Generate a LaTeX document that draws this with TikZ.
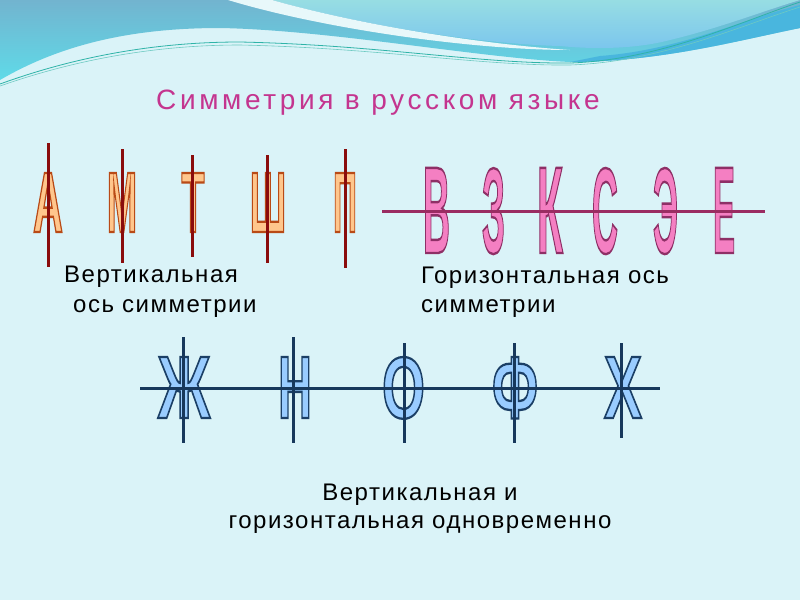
\documentclass[tikz,border=0pt]{standalone}
\usepackage{fontspec}
\setmainfont{Liberation Sans}
\usepackage{graphicx}
\definecolor{bg}{HTML}{DAF3F8}
\definecolor{bandtop}{HTML}{72B4CF}
\definecolor{bandbot}{HTML}{5FDAE8}
\definecolor{bowltop}{HTML}{97DDE3}
\definecolor{bowlbot}{HTML}{7AC5EE}
\definecolor{darkband}{HTML}{49B6DE}
\definecolor{whitestrip}{HTML}{E8F8FA}
\definecolor{tealline}{HTML}{2FB3A8}
\definecolor{titlecol}{HTML}{C4358F}
\definecolor{oFill}{HTML}{FFC68C}
\definecolor{oLine}{HTML}{8A0C0C}
\definecolor{pFill}{HTML}{F47FC2}
\definecolor{pLine}{HTML}{9A2C62}
\definecolor{bFill}{HTML}{99CCFF}
\definecolor{bLine}{HTML}{17385C}
% stroke colours (PDF rgb) and stroke widths
\def\oStroke{0.725 0.290 0.086 RG 0.28 w}
\def\pStroke{0.557 0.184 0.400 RG 0.2 w}
\def\bStroke{0.106 0.247 0.400 RG 0.26 w}
\newcommand{\wletter}[8]{% name, x, y, w, h, letter, fill, stroke
  \node[letO, text=#7] (#1) at (#2,#3) {\resizebox{#4pt}{#5pt}{\bfseries
    \special{pdf:code #8 2 Tr}#6\special{pdf:code 0 Tr}}};}
\tikzset{
  lbl/.style={inner sep=0, font=\fontsize{24}{24}\selectfont\addfontfeatures{LetterSpace=6.3}, text=black},
  ttl/.style={inner sep=0, font=\fontsize{28}{28}\selectfont\addfontfeatures{LetterSpace=13}, text=titlecol},
  letO/.style={inner sep=0, anchor=base},
  axisO/.style={draw=oLine, line width=3pt},
  axisP/.style={draw=pLine, line width=3pt},
  axisB/.style={draw=bLine, line width=3pt}
}
\begin{document}
\begin{tikzpicture}[x=1pt,y=-1pt]
\useasboundingbox (0,0) rectangle (800,600);
\fill[bg] (0,0) rectangle (800,600);
% top decoration
\shade[top color=bandtop, bottom color=bandbot]
  (0,80) .. controls (60,45) and (130,28) .. (220,28) .. controls (330,30) and (480,58) .. (570,62)
  .. controls (660,62) and (740,40) .. (800,28) -- (800,0) -- (0,0) -- cycle;
\fill[darkband] (600,56) .. controls (680,50) and (740,20) .. (800,5) -- (800,28) .. controls (740,40) and (660,62) .. (570,62) -- cycle;
\shade[top color=bowltop, bottom color=bowlbot]
  (272,0) .. controls (360,25) and (480,44) .. (560,46) .. controls (600,50) and (640,48) .. (670,40)
  .. controls (720,28) and (760,12) .. (800,0) -- cycle;
\fill[whitestrip] (228,0) .. controls (320,28) and (470,50) .. (570,50) .. controls (480,44) and (360,25) .. (272,0) -- cycle;
\draw[tealline, line width=0.8pt] (0,84) .. controls (80,55) and (160,42) .. (240,42) .. controls (380,45) and (480,64) .. (570,63) .. controls (660,60) and (740,22) .. (800,2);
\draw[tealline!70!white, line width=0.6pt] (0,86) .. controls (80,58) and (160,45) .. (240,45) .. controls (380,48) and (480,66) .. (570,65) .. controls (660,62) and (740,26) .. (800,7);
% title
\node[ttl, anchor=base west] (title) at (156,109) {Симметрия в русском языке};
% row 1: vertical axis
\wletter{a1}{48}{232}{30}{59}{А}{oFill}{\oStroke}
\wletter{a2}{122}{232}{30}{59}{М}{oFill}{\oStroke}
\wletter{a3}{193}{232}{23}{59}{Т}{oFill}{\oStroke}
\wletter{a4}{268}{232}{36}{59}{Ш}{oFill}{\oStroke}
\wletter{a5}{345}{232}{24}{59}{П}{oFill}{\oStroke}
\coordinate (a1t) at (48,143); \coordinate (a1b) at (48,267);
\coordinate (a2t) at (122,149); \coordinate (a2b) at (122,263);
\coordinate (a3t) at (192,155); \coordinate (a3b) at (192,257);
\coordinate (a4t) at (267,155); \coordinate (a4b) at (267,263);
\coordinate (a5t) at (345,149); \coordinate (a5b) at (345,268);
\foreach \i in {1,...,5} {\draw[axisO] (a\i t) -- (a\i b);}
% row 2: horizontal axis
\wletter{b1}{436.5}{253}{27}{85}{В}{pFill}{\pStroke}
\wletter{b2}{493.5}{253}{23}{85}{З}{pFill}{\pStroke}
\wletter{b3}{550}{253}{26}{85}{К}{pFill}{\pStroke}
\wletter{b4}{605}{253}{26}{85}{С}{pFill}{\pStroke}
\wletter{b5}{665.5}{253}{25}{85}{Э}{pFill}{\pStroke}
\wletter{b6}{724}{253}{22}{85}{Е}{pFill}{\pStroke}
\coordinate (bl) at (382,211); \coordinate (br) at (765,211);
\draw[axisP] (bl) -- (br);
% row 3: both axes
\wletter{c1}{184}{418}{52}{61}{Ж}{bFill}{\bStroke}
\wletter{c2}{295}{418}{34}{61}{Н}{bFill}{\bStroke}
\wletter{c3}{403.5}{418}{43}{61}{О}{bFill}{\bStroke}
\wletter{c4}{515}{418}{46}{61}{Ф}{bFill}{\bStroke}
\wletter{c5}{623}{418}{38}{61}{Х}{bFill}{\bStroke}
\coordinate (cl) at (140,388); \coordinate (cr) at (660,388);
\draw[axisB] (cl) -- (cr);
\coordinate (c1t) at (183,337); \coordinate (c1b) at (183,443);
\coordinate (c2t) at (293,337); \coordinate (c2b) at (293,443);
\coordinate (c3t) at (404,343); \coordinate (c3b) at (404,443);
\coordinate (c4t) at (514.5,343); \coordinate (c4b) at (514.5,443);
\coordinate (c5t) at (621,343); \coordinate (c5b) at (621,438);
\foreach \i in {1,...,5} {\draw[axisB] (c\i t) -- (c\i b);}
% labels
\node[lbl, anchor=base west] (l1) at (64,282) {Вертикальная};
\node[lbl, anchor=base west] (l2) at (73,312) {ось симметрии};
\node[lbl, anchor=base west] (l3) at (421,283) {Горизонтальная ось};
\node[lbl, anchor=base west] (l4) at (421,312) {симметрии};
\node[lbl, anchor=base] (l5) at (420,500) {Вертикальная и};
\node[lbl, anchor=base] (l6) at (420,528) {горизонтальная одновременно};
\end{tikzpicture}
\end{document}
